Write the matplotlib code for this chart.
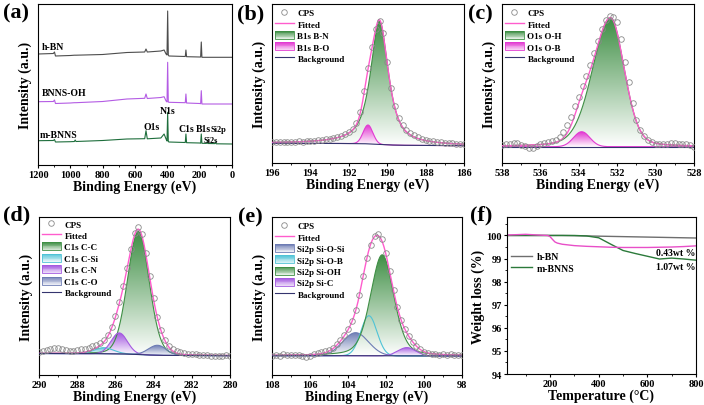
import numpy as np
import matplotlib
matplotlib.use("Agg")
import matplotlib.pyplot as plt
from matplotlib.colors import LinearSegmentedColormap, to_rgb
from matplotlib.lines import Line2D
from matplotlib.patches import Rectangle, Patch
from matplotlib.legend_handler import HandlerBase
from matplotlib.ticker import MultipleLocator

plt.rcParams['font.family'] = 'Liberation Serif'
plt.rcParams['font.weight'] = 'bold'
plt.rcParams['axes.labelweight'] = 'bold'

# ---------------- (a) survey spectra ----------------
survey_ev = [1200, 1105, 1098, 1092, 1000, 975, 970, 965, 800, 650, 540, 532, 524,
             440, 420, 408, 402, 398, 394, 390, 289, 285, 281, 200, 194, 190, 186,
             158, 154, 150, 106, 102, 98, 0]
survey_hbn = [111, 111.5, 113, 109, 109.5, 109.8, 109.8, 109.8, 110.5, 112.5, 113, 116, 113,
              114, 115, 111, 110, 154, 110, 109, 108.5, 115, 108.3, 108, 108, 123, 107.7,
              107.7, 107.7, 107.7, 107.7, 107.7, 107.7, 107.7]
survey_bnnsoh = [63.3, 63.5, 65, 61.5, 62, 62.3, 62.3, 62.3, 63.5, 66, 66.7, 71, 66.5,
                 67.5, 68.3, 64, 63, 102.7, 63, 62.7, 62.3, 71, 62, 61.5, 61.3, 74.3, 61,
                 61, 61, 61, 61, 61, 61, 61]
survey_mbnns = [24.3, 24.5, 25.5, 23, 23.3, 23.5, 25, 23.5, 24.5, 26, 26.3, 34.3, 26.2,
                27, 31, 26, 24, 52.7, 23.5, 23, 22.5, 31, 22.3, 22, 21.8, 31, 21.7,
                21.6, 23.3, 21.5, 21.4, 23, 21.2, 21]

# ---------------- (b) B1s ----------------
b1s_ev = np.linspace(196, 186, 51)
b1s_cps = [21.0, 21.2, 20.6, 21.3, 20.9, 21.4, 21.0, 21.6, 21.2, 21.9,
           21.8, 22.5, 22.6, 23.2, 23.6, 24.3, 25.0, 26.2, 27.5, 29.2,
           31.5, 34.5, 40.5, 51.5, 72.0, 95.0, 116.0, 134.0, 142.5, 130.0,
           101.0, 75.0, 57.0, 45.5, 38.0, 33.5, 30.5, 28.0, 26.0, 24.5,
           23.4, 22.5, 21.8, 21.0, 20.6, 20.2, 19.8, 19.6, 19.4, 19.1,
           19.0]
b1s_labels = ["B1s B-N", "B1s B-O"]
b1s_center = [190.4, 191.0]
b1s_height = [123.5, 18.8]
b1s_w_hi = [0.55, 0.3]
b1s_w_lo = [0.55, 0.3]
b1s_eta = [0.8, 0.0]
b1s_bg_ev = [186, 188, 189.5, 190.4, 191, 192, 196]
b1s_bg = [17.3, 17.5, 17.8, 18.5, 19.2, 19.5, 19.7]

# ---------------- (c) O1s ----------------
o1s_ev = np.linspace(538, 528, 51)
o1s_cps = [18.3, 18.7, 19.3, 20.0, 19.7, 18.0, 16.7, 15.3, 15.0, 16.7,
           18.7, 20.0, 20.7, 21.7, 23.3, 26.3, 31.0, 37.8, 46.1, 56.7,
           66.5, 77.5, 87.3, 98.2, 110.4, 122.3, 134.3, 142.7, 146.7, 146.0,
           141.3, 124.0, 101.3, 80.7, 59.7, 43.0, 32.7, 27.0, 23.3, 21.0,
           19.3, 18.7, 18.7, 19.0, 19.7, 19.7, 19.3, 19.3, 19.0, 18.0,
           15.7]
o1s_labels = ["O1s O-H", "O1s O-B"]
o1s_center = [532.35, 533.85]
o1s_height = [129, 15]
o1s_w_hi = [1.1, 0.5]
o1s_w_lo = [0.85, 0.5]
o1s_eta = [0.2, 0.0]
o1s_bg_ev = [528, 538]
o1s_bg = [16.3, 16.3]

# ---------------- (d) C1s ----------------
c1s_ev = np.linspace(290, 280, 51)
c1s_cps = [23.5, 24.2, 25.0, 26.2, 27.0, 27.3, 26.5, 25.5, 24.5, 24.2,
           24.8, 25.6, 26.5, 27.5, 28.8, 30.5, 32.5, 35.5, 40.5, 48.5,
           59.5, 73.0, 89.0, 107.0, 126.0, 142.0, 148.5, 141.5, 122.5, 99.0,
           77.0, 58.5, 45.0, 35.5, 29.5, 26.0, 24.0, 22.8, 22.0, 21.3,
           21.0, 20.6, 20.2, 20.3, 19.8, 19.5, 19.2, 18.6, 18.9, 19.6,
           19.3]
c1s_labels = ["C1s C-C", "C1s C-Si", "C1s C-N", "C1s C-O"]
c1s_center = [284.8, 286.6, 285.8, 283.8]
c1s_height = [123, 6, 21, 10]
c1s_w_hi = [0.67, 0.6, 0.5, 0.55]
c1s_w_lo = [0.67, 0.6, 0.5, 0.55]
c1s_eta = [0.1, 0.0, 0.0, 0.0]
c1s_bg_ev = [280, 283, 284, 284.8, 285.5, 286.5, 290]
c1s_bg = [19.3, 19.5, 19.8, 20.5, 21.0, 21.3, 21.5]

# ---------------- (e) Si2p ----------------
si2p_ev = np.linspace(108, 98, 51)
si2p_cps = [19.5, 20.3, 19.2, 20.6, 19.8, 20.5, 19.6, 20.2, 18.8, 17.6,
            19.4, 21.3, 22.0, 22.6, 23.8, 25.4, 27.5, 30.6, 34.8, 40.2,
            46.5, 54.5, 65.5, 80.5, 99.0, 117.0, 130.5, 139.0, 141.0, 136.0,
            122.5, 104.5, 85.5, 68.5, 55.5, 46.0, 39.5, 33.5, 29.0, 25.8,
            23.5, 22.2, 21.0, 21.5, 20.4, 21.2, 20.0, 20.6, 19.7, 20.3,
            19.8]
si2p_labels = ["Si2p Si-O-Si", "Si2p Si-O-B", "Si2p Si-OH", "Si2p Si-C"]
si2p_center = [103.6, 102.9, 102.2, 100.9]
si2p_height = [23, 40, 101, 8.3]
si2p_w_hi = [0.8, 0.5, 0.72, 0.55]
si2p_w_lo = [0.8, 0.5, 0.72, 0.55]
si2p_eta = [0.0, 0.0, 0.3, 0.0]
si2p_bg_ev = [98, 101.5, 102.5, 103.5, 108]
si2p_bg = [19.0, 19.1, 19.2, 19.3, 19.3]

# ---------------- (f) TGA ----------------
tga_temp = [25, 100, 150, 190, 200, 210, 220, 230, 250, 300, 350, 400, 450, 500,
            550, 600, 650, 700, 750, 800]
tga_hbn = [100.0, 100.0, 100.0, 100.0, 100.0, 100.0, 100.0, 100.0, 100.0, 99.99,
           99.98, 99.97, 99.96, 99.95, 99.94, 99.93, 99.92, 99.91, 99.9, 99.89]
tga_bnnsoh = [100.02, 100.05, 100.02, 100.0, 99.95, 99.83, 99.72, 99.67, 99.62, 99.56,
              99.53, 99.51, 99.49, 99.48, 99.48, 99.48, 99.49, 99.5, 99.52, 99.55]
tga_mbnns = [100.0, 100.0, 100.0, 100.0, 100.0, 100.0, 100.0, 100.0, 100.0, 100.0,
             99.98, 99.9, 99.62, 99.35, 99.22, 99.1, 98.98, 99.02, 98.98, 98.93]

# colours
GREEN = '#3f8f45'
MAGENTA = '#e23ad2'
CYAN = '#4fc3d6'
PURPLE = '#a45ae0'
SLATE = '#6d7cb4'
FIT = '#ff5ccd'
BGC = '#34346e'
CPSC = '#8a8a8a'

W, H = 704, 406
fig = plt.figure(figsize=(W / 100, H / 100), dpi=100)


def rect_px(l, t, r, b):
    return [l / W, 1 - b / H, (r - l) / W, (b - t) / H]


def pvoigt(x, c, h, w_hi, w_lo, eta):
    w = np.where(x >= c, w_hi, w_lo)
    r2 = ((x - c) / w) ** 2
    return h * ((1 - eta) * np.exp(-np.log(2) * r2) + eta / (1 + r2))


def grad_fill(ax, x, base, top, color):
    mask = (top - base) > 0.05
    xs, b, t = x[mask], base[mask], top[mask]
    poly = ax.fill_between(xs, b, t, facecolor='none', edgecolor='none')
    cmap = LinearSegmentedColormap.from_list('g', ['white', color])
    grad = np.linspace(0, 1, 256).reshape(-1, 1)
    im = ax.imshow(grad, cmap=cmap, origin='lower', aspect='auto',
                   extent=[xs.min(), xs.max(), b.min(), t.max()], zorder=1)
    im.set_clip_path(poly.get_paths()[0], ax.transData)


class GradHandler(HandlerBase):
    def create_artists(self, legend, orig_handle, xdescent, ydescent,
                       width, height, fontsize, trans):
        col = np.array(to_rgb(orig_handle.get_edgecolor()))
        arts = []
        n = 10
        for i in range(n):
            f = i / (n - 1)
            c = col * (1 - 0.85 * f) + np.ones(3) * 0.85 * f
            y0 = -ydescent + height * (1 - (i + 1) / n)
            arts.append(Rectangle((-xdescent, y0), width, height / n, facecolor=c,
                                  edgecolor='none', transform=trans))
        arts.append(Rectangle((-xdescent, -ydescent), width, height, facecolor='none',
                              edgecolor=col, lw=0.6, transform=trans))
        return arts


def style_axes(ax, major, minor):
    for s in ax.spines.values():
        s.set_linewidth(0.8)
    ax.xaxis.set_major_locator(MultipleLocator(major))
    ax.xaxis.set_minor_locator(MultipleLocator(minor))
    ax.tick_params(which='major', direction='out', length=2.5, width=0.8, pad=1,
                   labelsize=7.5, top=False, right=False)
    ax.tick_params(which='minor', direction='out', length=1.5, width=0.6,
                   top=False, right=False)


def xps_panel(rect, ev, cps, labels, center, height, w_hi, w_lo, eta, bg_ev, bg_v,
              colors, xlim, ymax, anchor):
    ax = fig.add_axes(rect)
    x = np.linspace(min(xlim), max(xlim), 800)
    bg = np.interp(x, bg_ev, bg_v)
    total = bg.copy()
    handles = [Line2D([], [], marker='o', ls='none', mfc='none', mec=CPSC, ms=4, mew=0.6),
               Line2D([], [], color=FIT, lw=1.0)]
    for i in range(len(labels)):
        comp = pvoigt(x, center[i], height[i], w_hi[i], w_lo[i], eta[i])
        total = total + comp
        grad_fill(ax, x, bg, bg + comp, colors[i])
        ax.plot(x, bg + comp, color=colors[i], lw=0.8, zorder=2)
        handles.append(Patch(edgecolor=colors[i], facecolor='none'))
    ax.plot(x, total, color=FIT, lw=1.0, zorder=3)
    ax.plot(x, bg, color=BGC, lw=0.8, zorder=3)
    ax.plot(ev, cps, 'o', mfc='none', mec=CPSC, ms=4, mew=0.6, zorder=4)
    handles.append(Line2D([], [], color=BGC, lw=0.8))
    ax.legend(handles, ["CPS", "Fitted"] + labels + ["Background"],
              handler_map={Patch: GradHandler()}, loc='upper left',
              bbox_to_anchor=anchor, frameon=False, fontsize=6.5,
              handlelength=2.1, handleheight=1.0, handletextpad=0.4,
              labelspacing=0.26, borderpad=0, borderaxespad=0)
    ax.set_xlim(xlim)
    ax.set_ylim(0, ymax)
    ax.set_yticks([])
    style_axes(ax, 2, 1)
    ax.set_xlabel("Binding Energy (eV)", fontsize=10, labelpad=0.5)
    ax.set_ylabel("Intensity (a.u.)", fontsize=10)
    return ax


# ---- (a)
ax = fig.add_axes(rect_px(38, 5, 232, 166))
ax.plot(survey_ev, survey_hbn, color='#4d4d4d', lw=0.8)
ax.plot(survey_ev, survey_bnnsoh, color='#b45ce4', lw=0.8)
ax.plot(survey_ev, survey_mbnns, color='#1e6e3c', lw=0.8)
ax.set_xlim(1200, 0)
ax.set_ylim(0, 161)
ax.set_yticks([])
style_axes(ax, 200, 100)
ax.set_xlabel("Binding Energy (eV)", fontsize=10, labelpad=0.5)
ax.set_ylabel("Intensity (a.u.)", fontsize=10)
ax.text(1175, 118, "h-BN", fontsize=7, ha='left', va='center')
ax.text(1175, 72, "BNNS-OH", fontsize=7, ha='left', va='center')
ax.text(1190, 30, "m-BNNS", fontsize=7, ha='left', va='center')
ax.text(399, 54, "N1s", fontsize=7, ha='center', va='center')
ax.text(495, 38, "O1s", fontsize=7, ha='center', va='center')
ax.text(280, 37, "C1s", fontsize=7, ha='center', va='center')
ax.text(176, 37, "B1s", fontsize=7, ha='center', va='center')
ax.text(84, 36, "Si2p", fontsize=6, ha='center', va='center')
ax.text(132, 25, "Si2s", fontsize=6, ha='center', va='center')

# ---- (b)
xps_panel(rect_px(272, 5, 464, 164), b1s_ev, b1s_cps, b1s_labels, b1s_center, b1s_height,
          b1s_w_hi, b1s_w_lo, b1s_eta, b1s_bg_ev, b1s_bg, [GREEN, MAGENTA],
          (196, 186), 159, (0.015, 0.975))
# ---- (c)
xps_panel(rect_px(502, 5, 694, 164), o1s_ev, o1s_cps, o1s_labels, o1s_center, o1s_height,
          o1s_w_hi, o1s_w_lo, o1s_eta, o1s_bg_ev, o1s_bg, [GREEN, MAGENTA],
          (538, 528), 159, (0.015, 0.975))
# ---- (d)
xps_panel(rect_px(39, 218, 230, 376), c1s_ev, c1s_cps, c1s_labels, c1s_center, c1s_height,
          c1s_w_hi, c1s_w_lo, c1s_eta, c1s_bg_ev, c1s_bg, [GREEN, CYAN, PURPLE, SLATE],
          (290, 280), 158, (0.015, 0.985))
# ---- (e)
xps_panel(rect_px(272, 218, 462, 376), si2p_ev, si2p_cps, si2p_labels, si2p_center,
          si2p_height, si2p_w_hi, si2p_w_lo, si2p_eta, si2p_bg_ev, si2p_bg,
          [SLATE, CYAN, GREEN, PURPLE], (108, 98), 158, (0.015, 0.975))

# ---- (f)
ax = fig.add_axes(rect_px(507, 218, 696, 375))
ax.plot(tga_temp, tga_hbn, color='#6e6e6e', lw=1.0, label='h-BN')
ax.plot(tga_temp, tga_mbnns, color='#2b7a3a', lw=1.0, label='m-BNNS')
ax.plot(tga_temp, tga_bnnsoh, color='#e84fc8', lw=1.0)
ax.set_xlim(23, 800)
ax.set_ylim(94, 100.8)
style_axes(ax, 200, 100)
ax.yaxis.set_major_locator(MultipleLocator(1))
ax.yaxis.set_minor_locator(MultipleLocator(0.5))
ax.set_xlabel("Temperature (\u00b0C)", fontsize=10, labelpad=0.5)
ax.set_ylabel("Weight loss (%)", fontsize=10)
ax.yaxis.set_label_coords(-0.115, 0.5)
ax.legend(loc='upper left', bbox_to_anchor=(0.02, 0.775), frameon=False, fontsize=7,
          handlelength=2.2, handletextpad=0.5, labelspacing=0.25, borderpad=0,
          borderaxespad=0)
ax.text(798, 99.28, "0.43wt %", fontsize=7, ha='right', va='center')
ax.text(798, 98.65, "1.07wt %", fontsize=7, ha='right', va='center')

# panel letters
for lab, px, py in [("(a)", 3, 13), ("(b)", 237, 14), ("(c)", 468, 14),
                    ("(d)", 3, 215), ("(e)", 238, 217), ("(f)", 470, 215)]:
    fig.text(px / W, 1 - py / H, lab, fontsize=16, ha='left', va='center')

fig.savefig("out.png", dpi=100)
